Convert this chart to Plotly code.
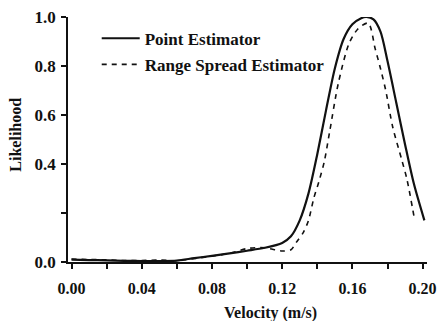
import plotly.graph_objects as go

# Point Estimator (solid)
point_x = [0.000, 0.010, 0.020, 0.030, 0.040, 0.050, 0.060, 0.070, 0.080, 0.090,
           0.100, 0.110, 0.120, 0.125, 0.130, 0.135, 0.140, 0.145, 0.150, 0.155,
           0.160, 0.165, 0.168, 0.172, 0.176, 0.180, 0.185, 0.190, 0.195, 0.201]
point_y = [0.010, 0.008, 0.007, 0.005, 0.004, 0.004, 0.006, 0.016, 0.025, 0.035,
           0.046, 0.058, 0.078, 0.105, 0.170, 0.280, 0.440, 0.620, 0.790, 0.910,
           0.970, 0.995, 1.000, 0.990, 0.940, 0.820, 0.650, 0.480, 0.320, 0.170]

# Range Spread Estimator (dashed)
range_x = [0.000, 0.010, 0.020, 0.030, 0.040, 0.050, 0.060, 0.070, 0.080, 0.090,
           0.100, 0.110, 0.120, 0.125, 0.128, 0.132, 0.135, 0.138, 0.141, 0.144,
           0.147, 0.152, 0.158, 0.163, 0.169, 0.173, 0.176, 0.179, 0.183, 0.188,
           0.191, 0.1955]
range_y = [0.012, 0.010, 0.009, 0.006, 0.006, 0.008, 0.005, 0.014, 0.024, 0.035,
           0.055, 0.058, 0.045, 0.050, 0.080, 0.120, 0.170, 0.260, 0.330, 0.410,
           0.530, 0.730, 0.890, 0.950, 0.975, 0.870, 0.790, 0.700, 0.550, 0.420,
           0.340, 0.170]

x_tickvals = [0.00, 0.02, 0.04, 0.06, 0.08, 0.10, 0.12, 0.14, 0.16, 0.18, 0.20]
x_ticktext = ["0.00", "", "0.04", "", "0.08", "", "0.12", "", "0.16", "", "0.20"]
y_tickvals = [0.0, 0.2, 0.4, 0.6, 0.8, 1.0]
y_ticktext = ["0.0", "", "0.4", "0.6", "0.8", "1.0"]

FONT = "Liberation Serif"
INK = "#111111"

fig = go.Figure()
fig.add_trace(go.Scatter(
    x=point_x, y=point_y, mode="lines", name="Point Estimator",
    line=dict(color=INK, width=2.2, shape="spline", smoothing=0.8),
    legendgroup="a"))
fig.add_trace(go.Scatter(
    x=range_x, y=range_y, mode="lines", name="Range Spread Estimator",
    line=dict(color=INK, width=1.6, dash="5px,5px", shape="spline", smoothing=0.8),
    legendgroup="b"))

fig.update_layout(
    width=437, height=321,
    margin=dict(l=68, r=10, t=17, b=59),
    paper_bgcolor="white", plot_bgcolor="white",
    font=dict(family=FONT, size=15, color=INK),
    showlegend=True,
    legend=dict(x=0.08, y=0.985, xanchor="left", yanchor="top",
                bgcolor="rgba(0,0,0,0)", tracegroupgap=1,
                traceorder="grouped", itemwidth=38,
                font=dict(family=FONT, size=17, color=INK, weight="bold")),
    xaxis=dict(range=[-0.002, 0.2025], tickvals=x_tickvals, ticktext=x_ticktext,
               automargin=False,
               showgrid=False, zeroline=False, showline=True, linecolor=INK,
               linewidth=1.5, ticks="outside", ticklen=5, tickcolor=INK,
               tickwidth=1.5, ticklabelstandoff=6, ticklabeloverflow="allow",
               tickfont=dict(family=FONT, size=16, color=INK, weight="bold")),
    yaxis=dict(range=[0, 1.0], tickvals=y_tickvals, ticktext=y_ticktext,
               automargin=False,
               showgrid=False, zeroline=False, showline=True, linecolor=INK,
               linewidth=1.5, ticks="outside", ticklen=5, tickcolor=INK,
               tickwidth=1.5, ticklabelstandoff=2,
               tickfont=dict(family=FONT, size=17, color=INK, weight="bold")),
    annotations=[
        dict(text="Velocity (m/s)", xref="paper", yref="paper",
             x=0.565, y=-0.208, showarrow=False, xanchor="center", yanchor="middle",
             font=dict(family=FONT, size=16, color=INK, weight="bold")),
        dict(text="Likelihood", xref="paper", yref="paper",
             x=-0.146, y=0.518, showarrow=False, textangle=-90,
             xanchor="center", yanchor="middle",
             font=dict(family=FONT, size=16, color=INK, weight="bold")),
    ],
)

fig.write_html("out.html")
